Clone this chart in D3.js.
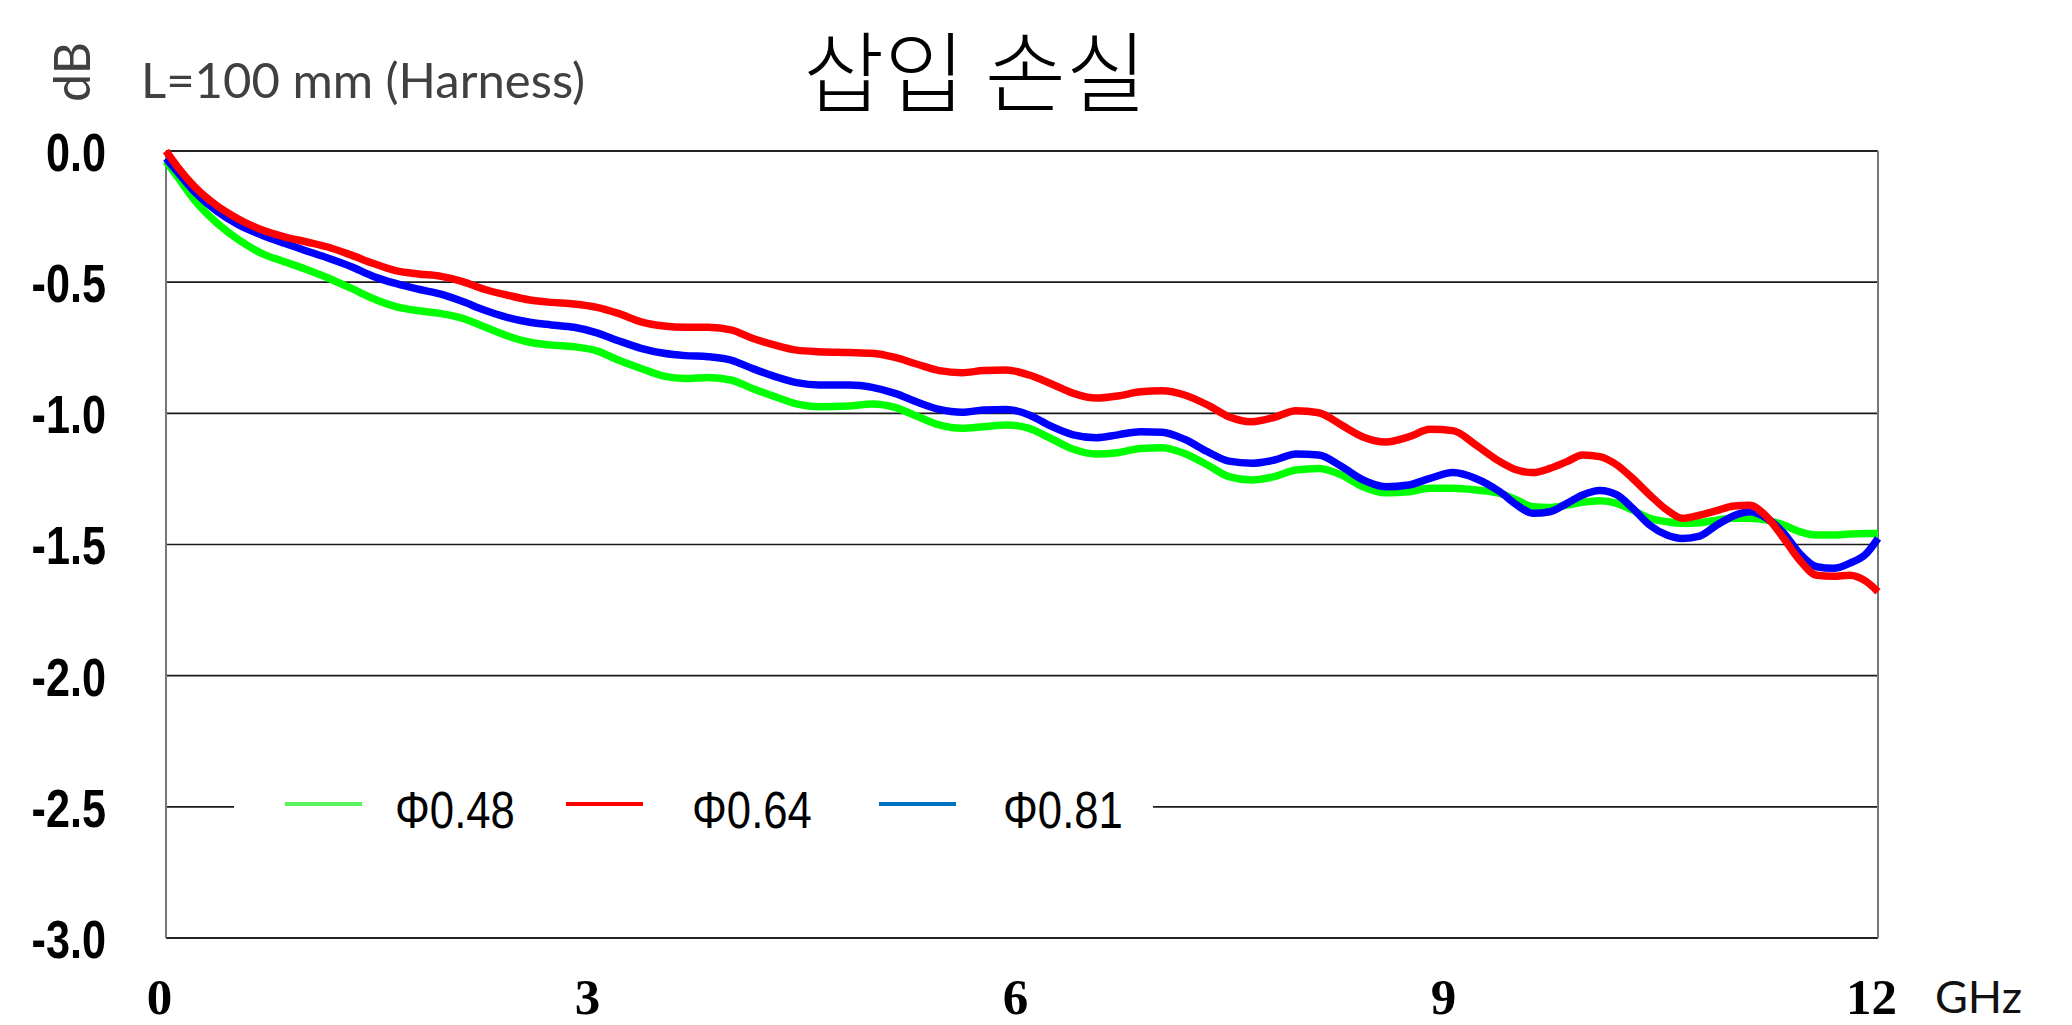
<!DOCTYPE html>
<html>
<head>
<meta charset="utf-8">
<script src="https://cdn.jsdelivr.net/npm/d3@7"></script>
<style>
html,body{margin:0;padding:0;background:#fff;}
svg{display:block;}
</style>
</head>
<body>
<svg id="chart" width="2072" height="1025"></svg>
<script>
// ---- data ----
const freq = [0, 0.08, 0.2, 0.36, 0.51, 0.67, 0.83, 0.98, 1.14, 1.30, 1.45, 1.61, 1.77, 1.92, 2.08, 2.23, 2.39, 2.55, 2.70, 2.86, 3.02, 3.17, 3.33, 3.49, 3.64, 3.80, 3.96, 4.11, 4.27, 4.42, 4.58,
  4.79, 4.95, 5.11, 5.26, 5.42, 5.58, 5.73, 5.89, 6.05, 6.20, 6.36, 6.52, 6.67, 6.83, 6.98, 7.14, 7.30, 7.45, 7.61, 7.77, 7.92, 8.08, 8.24, 8.39, 8.55, 8.71, 8.86, 9.02, 9.18,
  9.35, 9.47, 9.58, 9.70, 9.82, 9.93, 10.05, 10.17, 10.28, 10.40, 10.52, 10.63, 10.75, 10.87, 10.99, 11.10, 11.22, 11.34, 11.45, 11.57, 11.69, 11.80, 11.92, 12.0];

const phi048 = [-0.04, -0.098, -0.187, -0.276, -0.339, -0.39, -0.422, -0.451, -0.485, -0.524, -0.562, -0.593, -0.609, -0.619, -0.638, -0.67, -0.704, -0.729, -0.74, -0.746, -0.762, -0.797, -0.829, -0.858, -0.867, -0.863, -0.873, -0.905, -0.937, -0.964, -0.975,
  -0.972, -0.964, -0.977, -1.01, -1.044, -1.057, -1.051, -1.044, -1.057, -1.095, -1.137, -1.155, -1.15, -1.134, -1.131, -1.153, -1.197, -1.241, -1.254, -1.241, -1.216, -1.21, -1.235, -1.28, -1.303, -1.299, -1.286, -1.286, -1.292,
  -1.305, -1.331, -1.356, -1.359, -1.35, -1.339, -1.333, -1.343, -1.369, -1.40, -1.413, -1.419, -1.417, -1.407, -1.40, -1.40, -1.407, -1.426, -1.451, -1.464, -1.464, -1.46, -1.458, -1.458];

const phi064 = [0, -0.06, -0.136, -0.21, -0.26, -0.30, -0.327, -0.346, -0.367, -0.397, -0.428, -0.456, -0.469, -0.477, -0.498, -0.527, -0.549, -0.568, -0.577, -0.583, -0.596, -0.619, -0.651, -0.667, -0.672, -0.672, -0.682, -0.714, -0.74, -0.759, -0.765,
  -0.768, -0.771, -0.787, -0.812, -0.837, -0.845, -0.837, -0.835, -0.854, -0.886, -0.924, -0.942, -0.934, -0.918, -0.914, -0.93, -0.968, -1.013, -1.032, -1.015, -0.99, -0.998, -1.045, -1.09, -1.109, -1.09, -1.061, -1.066, -1.12,
  -1.184, -1.216, -1.226, -1.21, -1.184, -1.159, -1.165, -1.197, -1.248, -1.311, -1.368, -1.40, -1.388, -1.371, -1.353, -1.35, -1.394, -1.477, -1.559, -1.617, -1.621, -1.617, -1.642, -1.68];

const phi081 = [-0.028, -0.079, -0.155, -0.231, -0.282, -0.32, -0.352, -0.38, -0.409, -0.441, -0.477, -0.505, -0.527, -0.545, -0.574, -0.606, -0.634, -0.653, -0.663, -0.672, -0.693, -0.723, -0.752, -0.771, -0.78, -0.784, -0.797, -0.829, -0.86, -0.883, -0.892,
  -0.892, -0.901, -0.924, -0.956, -0.985, -0.996, -0.987, -0.985, -1.006, -1.048, -1.082, -1.093, -1.082, -1.07, -1.072, -1.099, -1.146, -1.182, -1.19, -1.178, -1.155, -1.159, -1.203, -1.254, -1.28, -1.273, -1.248, -1.226, -1.248,
  -1.299, -1.35, -1.381, -1.375, -1.343, -1.311, -1.294, -1.311, -1.362, -1.426, -1.464, -1.477, -1.468, -1.426, -1.39, -1.375, -1.40, -1.457, -1.534, -1.585, -1.591, -1.572, -1.534, -1.477];

const seriesNames = ["Φ0.48", "Φ0.64", "Φ0.81"];
const xTicks = [0, 3, 6, 9, 12];
const yTicks = [0, -0.5, -1.0, -1.5, -2.0, -2.5, -3.0];
const titleText = "삽입 손실";
const subtitleText = "L=100 mm (Harness)";
const yUnit = "dB";
const xUnit = "GHz";

// ---- layout ----
const svg = d3.select("#chart");
const L = 166, R = 1878, T = 151, B = 938;
const x = d3.scaleLinear().domain([0, 12]).range([L, R]);
const y = d3.scaleLinear().domain([0, -3]).range([T, B]);

const lineColors = ["#00ff00", "#ff0000", "#0000ff"];
const legendColors = ["#5cf25c", "#ff0000", "#0070c0"];
const narrow = 0.8;

// gridlines
svg.append("g").selectAll("line").data(yTicks.filter(d => d !== 0 && d !== -3)).join("line")
  .attr("x1", L).attr("x2", R).attr("y1", d => y(d)).attr("y2", d => y(d))
  .attr("stroke", "#1a1a1a").attr("stroke-width", 1.6);

// frame
svg.append("line").attr("x1", L).attr("x2", R).attr("y1", T).attr("y2", T).attr("stroke", "#222").attr("stroke-width", 2);
svg.append("line").attr("x1", L).attr("x2", R).attr("y1", B).attr("y2", B).attr("stroke", "#222").attr("stroke-width", 2);
svg.append("line").attr("x1", L).attr("x2", L).attr("y1", T).attr("y2", B).attr("stroke", "#777").attr("stroke-width", 2);
svg.append("line").attr("x1", R).attr("x2", R).attr("y1", T).attr("y2", B).attr("stroke", "#777").attr("stroke-width", 2);

// y axis labels (condensed bold)
const yAxis = d3.axisLeft(y).tickValues(yTicks).tickSize(0).tickPadding(60).tickFormat(d => d.toFixed(1));
const gy = svg.append("g").attr("transform", `translate(${L},0)`).call(yAxis);
gy.select(".domain").remove();
gy.selectAll("text")
  .attr("font-family", "'Liberation Sans',Arial,sans-serif")
  .attr("font-weight", "bold").attr("font-size", 54).attr("fill", "#000")
  .attr("dy", "0.36em").attr("x", -60 / narrow).attr("transform", `scale(${narrow},1)`);

// x axis labels
const xAxis = d3.axisBottom(x).tickValues(xTicks).tickSize(0).tickPadding(0).tickFormat(d => String(d));
const gx = svg.append("g").attr("transform", `translate(0,${B})`).call(xAxis);
gx.select(".domain").remove();
gx.selectAll("text")
  .attr("font-family", "'Liberation Serif','Times New Roman',serif")
  .attr("font-weight", "bold").attr("font-size", 51).attr("fill", "#000")
  .attr("y", 76).attr("dy", 0).attr("dx", -7);

// unit labels
svg.append("text").attr("x", 1935).attr("y", 1013).text(xUnit)
  .attr("font-family", "Lato, 'Open Sans', sans-serif").attr("font-size", 45).attr("fill", "#111");
svg.append("text").attr("transform", "translate(90,72) rotate(-90)").attr("text-anchor", "middle").text(yUnit)
  .attr("font-family", "Lato, 'Open Sans', sans-serif").attr("font-size", 50).attr("fill", "#404040");
svg.append("text").attr("x", 141).attr("y", 98).text(subtitleText)
  .attr("font-family", "Lato, 'Open Sans', sans-serif").attr("font-size", 49).attr("fill", "#404040");
svg.append("text").attr("x", 975).attr("y", 105).attr("text-anchor", "middle").text(titleText)
  .attr("font-family", "'Noto Sans CJK KR','Noto Sans CJK SC',sans-serif").attr("font-weight", 300)
  .attr("font-size", 88).attr("fill", "#000");

// legend background (covers gridline)
svg.append("rect").attr("x", 234).attr("y", 785).attr("width", 919).attr("height", 45).attr("fill", "#fff");
const legX = [{lx: 285, tx: 395}, {lx: 566, tx: 692}, {lx: 879, tx: 1003}];
const leg = svg.append("g").selectAll("g").data(seriesNames).join("g");
leg.append("line").attr("x1", (d, i) => legX[i].lx).attr("x2", (d, i) => legX[i].lx + 77)
  .attr("y1", 804).attr("y2", 804).attr("stroke", (d, i) => legendColors[i]).attr("stroke-width", 4);
leg.append("text").attr("transform", (d, i) => `translate(${legX[i].tx},828) scale(0.84,1)`).text(d => d)
  .attr("font-family", "'Liberation Sans',Arial,sans-serif")
  .attr("font-size", 52).attr("fill", "#000");

// curves
const seriesData = [phi048, phi081, phi064];
const seriesColorsOrdered = [lineColors[0], lineColors[2], lineColors[1]];
const line = d3.line().x(d => x(d[0])).y(d => y(d[1])).curve(d3.curveMonotoneX);
svg.append("g").selectAll("path").data(seriesData).join("path")
  .attr("d", vals => line(freq.map((f, i) => [f, vals[i]])))
  .attr("fill", "none").attr("stroke", (d, i) => seriesColorsOrdered[i]).attr("stroke-width", 7.5)
  .attr("stroke-linejoin", "round").attr("stroke-linecap", "butt");
</script>
</body>
</html>
